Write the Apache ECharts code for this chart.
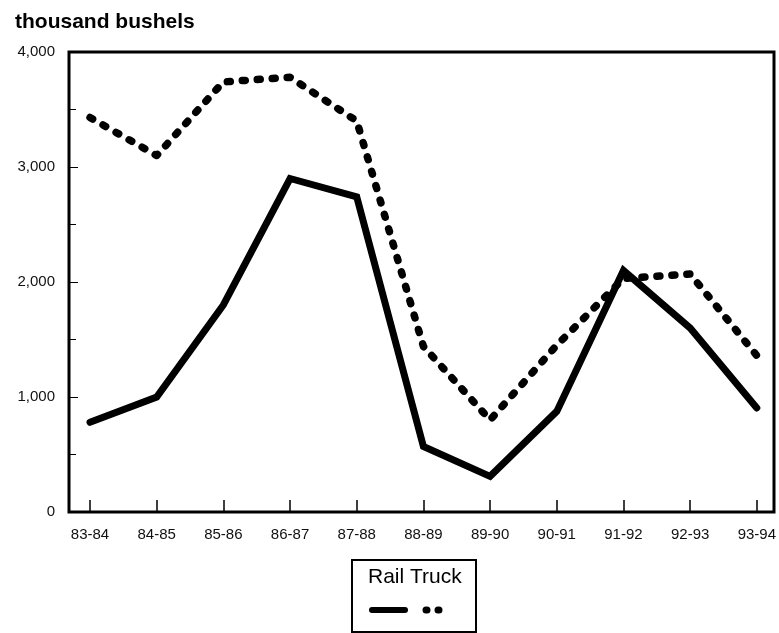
<!DOCTYPE html>
<html>
<head>
<meta charset="utf-8">
<script src="https://cdn.jsdelivr.net/npm/echarts@6/dist/echarts.min.js"></script>
<style>
html,body{margin:0;padding:0;background:#fff;}
#chart{width:779px;height:633px;}
</style>
</head>
<body>
<div id="chart"></div>
<script>
var categories = ['83-84','84-85','85-86','86-87','87-88','88-89','89-90','90-91','91-92','92-93','93-94'];
var rail  = [780, 1000, 1800, 2900, 2740, 570, 310, 875, 2100, 1600, 905];
var truck = [3430, 3100, 3740, 3780, 3400, 1440, 800, 1450, 2030, 2070, 1360];
var yTicks = [0, 1000, 2000, 3000, 4000];
var titleText = 'thousand bushels';
var legendText = 'Rail Truck';

var chart = echarts.init(document.getElementById('chart'), null, {renderer: 'canvas'});
var font = '"Liberation Sans", Arial, sans-serif';
chart.setOption({
  animation: false,
  backgroundColor: '#fff',
  title: {
    text: titleText, left: 10, top: 7,
    textStyle: {fontFamily: font, fontSize: 21, fontWeight: 'bold', color: '#000'}
  },
  grid: [
    {left: 69, right: 5, top: 52, bottom: 121, show: true, borderColor: '#000', borderWidth: 3, backgroundColor: 'transparent'},
    {left: 90, right: 21, top: 52, bottom: 121}
  ],
  xAxis: [
    {gridIndex: 0, type: 'value', show: false, min: 0, max: 1},
    {gridIndex: 1, type: 'category', data: categories, boundaryGap: false,
     axisLine: {show: false},
     axisTick: {show: true, inside: true, length: 12, lineStyle: {color: '#000', width: 1.5}},
     axisLabel: {margin: 15, fontFamily: font, fontSize: 15, color: '#111'},
     splitLine: {show: false}}
  ],
  yAxis: [
    {gridIndex: 0, type: 'value', min: yTicks[0], max: yTicks[yTicks.length-1], interval: 1000,
     axisLine: {show: false},
     axisTick: {show: true, inside: true, length: 9, lineStyle: {color: '#000', width: 1}},
     minorTick: {show: true, splitNumber: 2, length: 7, lineStyle: {color: '#000', width: 1}},
     axisLabel: {margin: 14, fontFamily: font, fontSize: 15, color: '#111',
       formatter: function(v){ return v.toLocaleString('en-US'); }},
     splitLine: {show: false}},
    {gridIndex: 1, type: 'value', min: yTicks[0], max: yTicks[yTicks.length-1], show: false}
  ],
  series: [
    {name: 'Rail', type: 'line', xAxisIndex: 1, yAxisIndex: 1, data: rail,
     symbol: 'none', lineStyle: {color: '#000', width: 7, cap: 'round', join: 'miter'}, z: 3},
    {name: 'Truck', type: 'line', xAxisIndex: 1, yAxisIndex: 1, data: truck,
     symbol: 'none', lineStyle: {color: '#000', width: 7.5, type: [3, 12], cap: 'round', join: 'round'}, z: 2}
  ],
  graphic: [
    {type: 'rect', shape: {x: 352, y: 560, width: 124, height: 72}, style: {fill: '#fff', stroke: '#000', lineWidth: 2}},
    {type: 'text', x: 368, y: 577, style: {text: legendText, font: '21px ' + font, fill: '#000', textVerticalAlign: 'middle', verticalAlign: 'middle'}},
    {type: 'line', shape: {x1: 372, y1: 610, x2: 405, y2: 610}, style: {stroke: '#000', lineWidth: 6, lineCap: 'round'}},
    {type: 'line', shape: {x1: 426, y1: 610, x2: 446, y2: 610}, style: {stroke: '#000', lineWidth: 7, lineCap: 'round', lineDash: [1, 11]}}
  ]
});
</script>
</body>
</html>
